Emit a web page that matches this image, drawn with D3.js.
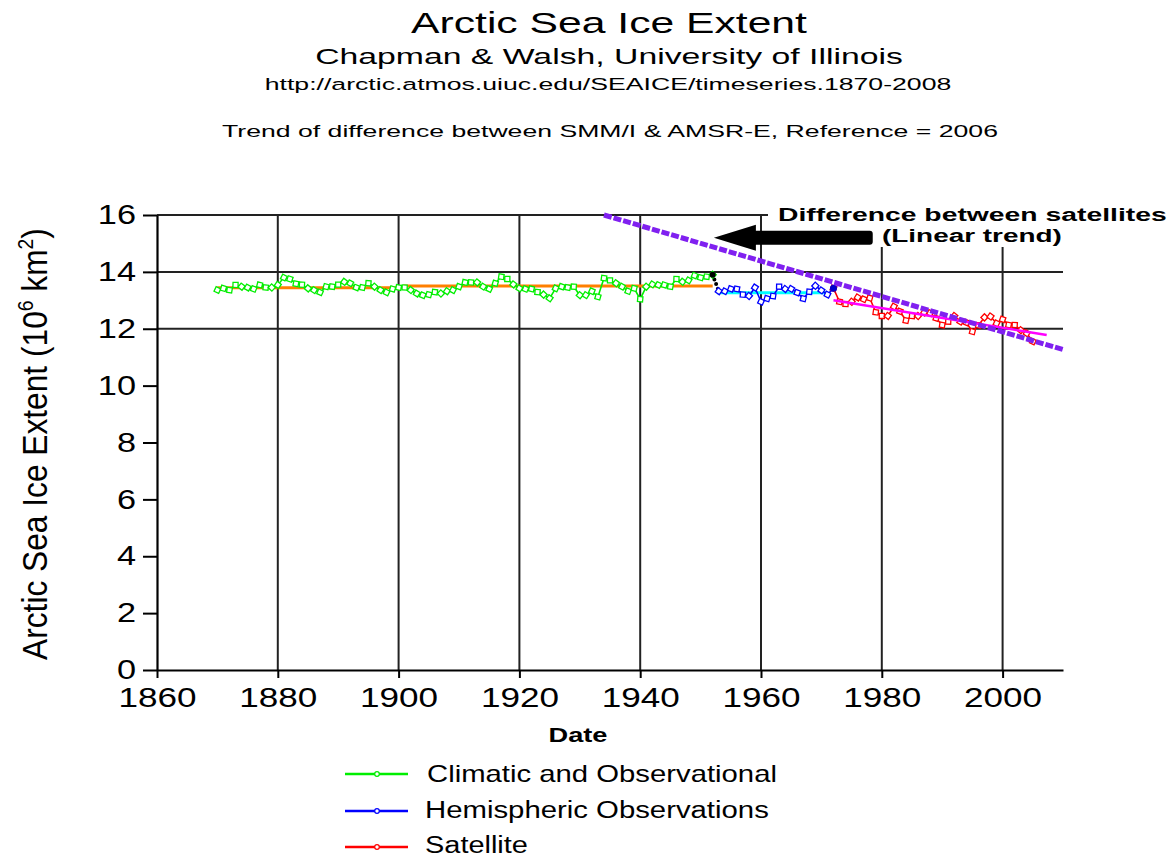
<!DOCTYPE html>
<html>
<head>
<meta charset="utf-8">
<script src="https://cdn.jsdelivr.net/npm/d3@7.9.0/dist/d3.min.js"></script>
<style>
  html, body { margin: 0; padding: 0; background: #fff; }
  svg { display: block; font-family: "Liberation Sans", Arial, sans-serif; }
</style>
</head>
<body>
<svg id="chart" width="1175" height="857"></svg>
<script>
// Chart data
const climaticStart = 1870;
const climaticValues = [
  13.36, 13.42, 13.36, 13.54, 13.48, 13.45, 13.40, 13.54, 13.45, 13.45,
  13.54, 13.80, 13.75, 13.58, 13.55, 13.42, 13.36, 13.28, 13.48, 13.48,
  13.55, 13.65, 13.60, 13.45, 13.45, 13.60, 13.48, 13.36, 13.28, 13.40,
  13.45, 13.45, 13.36, 13.24, 13.18, 13.20, 13.29, 13.24, 13.32, 13.36,
  13.48, 13.63, 13.63, 13.63, 13.48, 13.40, 13.60, 13.83, 13.75, 13.56,
  13.42, 13.40, 13.40, 13.29, 13.20, 13.07, 13.42, 13.48, 13.45, 13.48,
  13.18, 13.18, 13.32, 13.12, 13.78, 13.70, 13.60, 13.48, 13.32, 13.42,
  13.04, 13.48, 13.56, 13.54, 13.54, 13.48, 13.75, 13.65, 13.70, 13.87,
  13.80, 13.83, 13.90
];
const hemisphericStart = 1953;
const hemisphericValues = [
  13.32, 13.32, 13.40, 13.40, 13.20, 13.15, 13.45, 12.95, 13.06, 13.15,
  13.48, 13.40, 13.40, 13.27, 13.06, 13.30, 13.51, 13.35, 13.20, 13.42
];
const satelliteStart = 1972;
const satelliteValues = [
  13.42, 12.95, 12.87, 12.95, 13.10, 13.04, 13.08, 12.58, 12.45, 12.45,
  12.78, 12.61, 12.29, 12.45, 12.45, 12.57, 12.55, 12.37, 12.13, 12.25,
  12.45, 12.25, 12.22, 11.90, 12.12, 12.40, 12.43, 12.19, 12.33, 12.13,
  12.13, 11.95, 11.84, 11.55
];
// means of the pre-satellite periods
const climaticMean = [[1870, 13.44], [1901, 13.44], [1901, 13.50], [1952, 13.50]];
const hemisphericMean = [[1952.7, 13.27], [1971, 13.27]];
// linear trends
const satelliteTrend = [[1972, 13.0], [2007.3, 11.78]];
const differenceTrend = [[1934, 16.0], [2010, 11.27]];
// annotation arrow (tip, tail) in data units
const arrowPoints = [[1952.2, 15.2], [1978.5, 15.2]];

const xTicks = [1860, 1880, 1900, 1920, 1940, 1960, 1980, 2000];
const yTicks = [0, 2, 4, 6, 8, 10, 12, 14, 16];
const gridY = [12, 14, 16];

const legendItems = [
  { label: 'Climatic and Observational', color: '#00ee00' },
  { label: 'Hemispheric Observations', color: '#0000ff' },
  { label: 'Satellite', color: '#ff0000' }
];

const toPoints = (start, values) => values.map((v, i) => [start + i, v]);
const climatic = toPoints(climaticStart, climaticValues);
const hemispheric = toPoints(hemisphericStart, hemisphericValues);
const satellite = toPoints(satelliteStart, satelliteValues);

const svg = d3.select('#chart');
const x = d3.scaleLinear([1860, 2010], [157, 1063]);
const y = d3.scaleLinear([0, 16], [670, 215]);
const line = d3.line().x(d => x(d[0])).y(d => y(d[1]));

// place a text and stretch it along its own direction to a given width
function label(parent, str, px, py, opts) {
  const g = parent.append('g')
    .attr('transform', `translate(${px},${py})` + (opts.rotate ? ` rotate(${opts.rotate})` : ''));
  const t = g.append('text')
    .attr('text-anchor', opts.anchor || 'middle')
    .attr('font-size', opts.size)
    .attr('font-weight', opts.weight || 'normal')
    .attr('fill', '#000');
  if (typeof str === 'function') str(t); else t.text(str);
  const w = t.node().getBBox().width;
  const k = opts.width ? opts.width / w : (opts.scale || 1);
  t.attr('transform', `scale(${k},1)`);
  return g;
}

// Titles
label(svg, 'Arctic Sea Ice Extent', 609, 33, { size: 29, width: 396 });
label(svg, 'Chapman & Walsh, University of Illinois', 609, 64, { size: 22, width: 588 });
label(svg, 'http://arctic.atmos.uiuc.edu/SEAICE/timeseries.1870-2008', 608, 90, { size: 17, width: 687 });
label(svg, 'Trend of difference between SMM/I & AMSR-E, Reference = 2006', 610, 137, { size: 17, width: 776 });

// Grid
const grid = svg.append('g').attr('stroke', '#222').attr('stroke-width', 2);
grid.selectAll('.gx').data(xTicks.slice(1)).join('line')
  .attr('x1', d => x(d)).attr('x2', d => x(d))
  .attr('y1', y(16)).attr('y2', y(0));
grid.selectAll('.gy').data(gridY).join('line')
  .attr('x1', x(1860)).attr('x2', x(2010))
  .attr('y1', d => y(d)).attr('y2', d => y(d));

// Axes
const xAxis = svg.append('g')
  .attr('transform', `translate(0,${y(0)})`)
  .call(d3.axisBottom(x).tickValues(xTicks).tickSize(8).tickSizeOuter(0).tickPadding(10).tickFormat(d3.format('d')));
const yAxis = svg.append('g')
  .attr('transform', `translate(${x(1860)},0)`)
  .call(d3.axisLeft(y).tickValues(yTicks).tickSize(14).tickSizeOuter(0).tickPadding(7));
[xAxis, yAxis].forEach(a => {
  a.selectAll('path, line').attr('stroke', '#000').attr('stroke-width', 2);
  a.select('.domain').attr('stroke-width', 2.2);
  a.selectAll('text')
    .attr('font-size', 27)
    .attr('font-family', '"Liberation Sans", Arial, sans-serif')
    .attr('fill', '#000');
});
xAxis.selectAll('text').attr('transform', 'scale(1.3,1)');
yAxis.selectAll('text')
  .attr('x', function () { return +d3.select(this).attr('x') / 1.27; })
  .attr('transform', 'scale(1.27,1)');

// Axis titles
label(svg, 'Date', 578, 742, { size: 21, weight: 'bold', width: 59 });
label(svg, t => {
  t.append('tspan').text('Arctic Sea Ice Extent (10');
  t.append('tspan').attr('font-size', 22).attr('dy', -14).text('6');
  t.append('tspan').attr('dy', 14).text(' km');
  t.append('tspan').attr('font-size', 22).attr('dy', -14).text('2');
  t.append('tspan').attr('dy', 14).text(')');
}, 47, 444, { size: 36, rotate: -90, width: 432 });

// Annotation box and text
svg.append('rect')
  .attr('x', 768).attr('y', 200).attr('width', 407).attr('height', 47)
  .attr('fill', '#fff');
label(svg, 'Difference between satellites', 778, 221, { size: 18, weight: 'bold', anchor: 'start', width: 389 });
label(svg, '(Linear trend)', 882, 242, { size: 18, weight: 'bold', anchor: 'start', width: 180 });

// Arrow
const [tip, tail] = arrowPoints.map(p => [x(p[0]), y(p[1])]);
const headLen = 42, headHalf = 13, shaftHalf = 7;
svg.append('path')
  .attr('d', `M${tip[0]},${tip[1]} L${tip[0] + headLen},${tip[1] - headHalf} L${tip[0] + headLen},${tip[1] - shaftHalf}
    L${tail[0] - 3},${tip[1] - shaftHalf} Q${tail[0]},${tip[1] - shaftHalf} ${tail[0]},${tip[1] - shaftHalf + 3}
    L${tail[0]},${tip[1] + shaftHalf - 3} Q${tail[0]},${tip[1] + shaftHalf} ${tail[0] - 3},${tip[1] + shaftHalf}
    L${tip[0] + headLen},${tip[1] + shaftHalf} L${tip[0] + headLen},${tip[1] + headHalf} Z`)
  .attr('fill', '#000');

// Period means
svg.append('path').datum(climaticMean).attr('d', line)
  .attr('fill', 'none').attr('stroke', '#ff7f00').attr('stroke-width', 3);
svg.append('path').datum(hemisphericMean).attr('d', line)
  .attr('fill', 'none').attr('stroke', '#00ffff').attr('stroke-width', 3);

// Series
const series = [
  { data: climatic, color: '#00ee00' },
  { data: hemispheric, color: '#0000ff' },
  { data: satellite, color: '#ff0000' }
];
series.forEach(s => {
  svg.append('path').datum(s.data).attr('d', line)
    .attr('fill', 'none').attr('stroke', s.color).attr('stroke-width', 1.6);
});
// black dotted join between climatic and hemispheric records
svg.append('path').datum([climatic[climatic.length - 1], hemispheric[0]]).attr('d', line)
  .attr('fill', 'none').attr('stroke', '#000').attr('stroke-width', 4)
  .attr('stroke-linecap', 'round').attr('stroke-dasharray', '0,5');

const sym = d3.symbol().type(d3.symbolSquare).size(26);
series.forEach(s => {
  svg.append('g').selectAll('path').data(s.data).join('path')
    .attr('d', sym)
    .attr('transform', d => `translate(${x(d[0])},${y(d[1])}) rotate(${(d[0] * 37) % 45})`)
    .attr('fill', '#fff').attr('stroke', s.color).attr('stroke-width', 1.3);
});
svg.append('circle')
  .attr('cx', x(climatic[climatic.length - 1][0])).attr('cy', y(climatic[climatic.length - 1][1]))
  .attr('r', 3).attr('fill', '#000');
svg.append('circle')
  .attr('cx', x(hemispheric[hemispheric.length - 1][0])).attr('cy', y(hemispheric[hemispheric.length - 1][1]))
  .attr('r', 3.5).attr('fill', '#0000cc');

// Trends
svg.append('path').datum(satelliteTrend).attr('d', line)
  .attr('fill', 'none').attr('stroke', '#ff00ff').attr('stroke-width', 2.5);
svg.append('path').datum(differenceTrend).attr('d', line)
  .attr('fill', 'none').attr('stroke', '#8020f0').attr('stroke-width', 5)
  .attr('stroke-dasharray', '8,2');

// Legend
const legendX = [345, 408], legendTextX = [427, 425, 425];
const legendY = [774, 811, 847], legendBase = [782, 818, 853], legendW = [350, 344, 103];
legendItems.forEach((d, i) => {
  svg.append('line')
    .attr('x1', legendX[0]).attr('x2', legendX[1])
    .attr('y1', legendY[i]).attr('y2', legendY[i])
    .attr('stroke', d.color).attr('stroke-width', 2.5);
  svg.append('circle')
    .attr('cx', (legendX[0] + legendX[1]) / 2 + 0.5).attr('cy', legendY[i]).attr('r', 2.3)
    .attr('fill', '#fff').attr('stroke', d.color).attr('stroke-width', 1.2);
  label(svg, d.label, legendTextX[i], legendBase[i], { size: 23, anchor: 'start', width: legendW[i] });
});
</script>
</body>
</html>
